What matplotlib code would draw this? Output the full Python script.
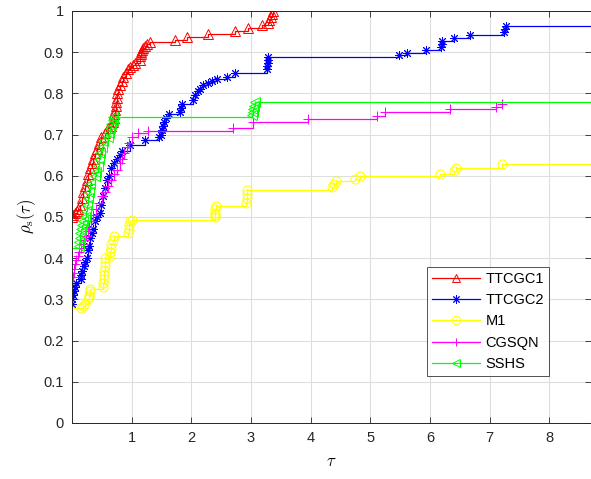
import matplotlib
matplotlib.use("Agg")
import matplotlib.pyplot as plt
from matplotlib.lines import Line2D

plt.rcParams["font.family"] = ["Liberation Sans", "DejaVu Sans"]
plt.rcParams["mathtext.fontset"] = "cm"

# performance profile data (tau, rho)
tau_ttcgc1 = [0, 0.02, 0.05, 0.08, 0.1, 0.13, 0.16, 0.19, 0.22, 0.25,
              0.27, 0.3, 0.33, 0.36, 0.39, 0.42, 0.46, 0.49, 0.55, 0.6,
              0.65, 0.68, 0.7, 0.71, 0.72, 0.73, 0.74, 0.75, 0.76, 0.77,
              0.8, 0.83, 0.86, 0.9, 0.94, 0.98, 1.02, 1.06, 1.14, 1.14,
              1.15, 1.16, 1.17, 1.19, 1.22, 1.26, 1.31, 1.73, 1.93, 2.28,
              2.73, 2.95, 3.19, 3.29, 3.31, 3.33, 3.35, 3.37]
rho_ttcgc1 = [0.50, 0.505, 0.51, 0.515, 0.52, 0.53, 0.545, 0.56, 0.575, 0.59,
              0.605, 0.62, 0.63, 0.64, 0.655, 0.665, 0.68, 0.695, 0.705, 0.715,
              0.72, 0.73, 0.74, 0.75, 0.76, 0.77, 0.78, 0.79, 0.80, 0.81,
              0.82, 0.83, 0.84, 0.85, 0.86, 0.865, 0.87, 0.875, 0.88, 0.89,
              0.895, 0.90, 0.905, 0.91, 0.915, 0.92, 0.925, 0.93, 0.937, 0.944,
              0.952, 0.958, 0.965, 0.972, 0.979, 0.986, 0.993, 1.0]

tau_ttcgc2 = [0.0, 0.0, 0.02, 0.03, 0.05, 0.06, 0.15, 0.15, 0.16, 0.2,
              0.22, 0.25, 0.27, 0.29, 0.31, 0.33, 0.35, 0.38, 0.42, 0.47,
              0.48, 0.52, 0.55, 0.58, 0.62, 0.65, 0.7, 0.75, 0.8, 0.84,
              0.97, 1.22, 1.45, 1.49, 1.51, 1.53, 1.55, 1.58, 1.62, 1.81,
              1.82, 1.84, 2.03, 2.07, 2.11, 2.15, 2.2, 2.28, 2.35, 2.43,
              2.6, 2.73, 3.27, 3.27, 3.28, 3.28, 3.29, 5.48, 5.62, 5.94,
              6.19, 6.2, 6.21, 6.4, 6.68, 7.24, 7.26, 7.27]
rho_ttcgc2 = [0.29, 0.30, 0.31, 0.32, 0.33, 0.34, 0.35, 0.36, 0.37, 0.38,
              0.39, 0.40, 0.42, 0.43, 0.45, 0.46, 0.47, 0.49, 0.50, 0.51,
              0.53, 0.55, 0.57, 0.59, 0.60, 0.62, 0.63, 0.64, 0.65, 0.66,
              0.675, 0.687, 0.695, 0.70, 0.71, 0.72, 0.73, 0.74, 0.75, 0.755,
              0.765, 0.775, 0.785, 0.795, 0.805, 0.81, 0.82, 0.825, 0.83, 0.835,
              0.84, 0.85, 0.86, 0.867, 0.874, 0.881, 0.888, 0.893, 0.899, 0.905,
              0.912, 0.919, 0.926, 0.934, 0.942, 0.949, 0.956, 0.963]

tau_m1 = [0, 0.15, 0.18, 0.22, 0.27, 0.28, 0.29, 0.3, 0.31, 0.52,
          0.52, 0.53, 0.53, 0.54, 0.55, 0.55, 0.56, 0.64, 0.64, 0.65,
          0.66, 0.69, 0.7, 0.94, 0.95, 0.96, 0.98, 1.0, 2.39, 2.39,
          2.4, 2.4, 2.41, 2.92, 2.93, 2.93, 2.94, 4.36, 4.4, 4.42,
          4.75, 4.82, 6.17, 6.41, 6.44, 7.2]
rho_m1 = [0.278, 0.28, 0.285, 0.29, 0.30, 0.305, 0.31, 0.32, 0.325, 0.33,
          0.34, 0.35, 0.36, 0.37, 0.38, 0.39, 0.40, 0.405, 0.415, 0.425,
          0.435, 0.445, 0.453, 0.46, 0.47, 0.48, 0.49, 0.493, 0.50, 0.505,
          0.51, 0.52, 0.527, 0.535, 0.545, 0.555, 0.566, 0.572, 0.58, 0.587,
          0.593, 0.60, 0.605, 0.612, 0.62, 0.628]

tau_cgsqn = [0.02, 0.03, 0.04, 0.05, 0.07, 0.1, 0.12, 0.15, 0.18, 0.2,
             0.23, 0.26, 0.29, 0.32, 0.35, 0.4, 0.45, 0.5, 0.55, 0.6,
             0.65, 0.7, 0.75, 0.8, 0.84, 0.88, 0.92, 0.96, 1.0, 1.1,
             1.28, 2.7, 3.04, 3.96, 5.12, 5.25, 6.33, 7.11, 7.21]
rho_cgsqn = [0.355, 0.365, 0.375, 0.385, 0.395, 0.405, 0.415, 0.425, 0.435, 0.445,
             0.455, 0.465, 0.475, 0.49, 0.505, 0.52, 0.535, 0.55, 0.56, 0.575,
             0.59, 0.605, 0.615, 0.63, 0.64, 0.655, 0.67, 0.68, 0.695, 0.703,
             0.709, 0.716, 0.73, 0.738, 0.745, 0.754, 0.762, 0.768, 0.775]

tau_sshs = [0, 0.12, 0.12, 0.13, 0.14, 0.15, 0.17, 0.19, 0.21, 0.23,
            0.25, 0.27, 0.28, 0.3, 0.38, 0.4, 0.43, 0.45, 0.47, 0.5,
            0.52, 0.6, 0.62, 0.64, 0.66, 0.68, 0.69, 3.02, 3.03, 3.04,
            3.05, 3.06]
rho_sshs = [0.425, 0.43, 0.44, 0.45, 0.46, 0.47, 0.48, 0.49, 0.50, 0.515,
            0.53, 0.545, 0.56, 0.58, 0.60, 0.61, 0.625, 0.64, 0.655, 0.67,
            0.685, 0.695, 0.705, 0.715, 0.725, 0.735, 0.742, 0.748, 0.755, 0.762,
            0.77, 0.778]

XMAX = 8.70

# name, tau, rho, color, marker, first marked index, extend to right edge
series = [
    ("TTCGC1", tau_ttcgc1, rho_ttcgc1, (1, 0, 0), "^", 0, False),
    ("TTCGC2", tau_ttcgc2, rho_ttcgc2, (0, 0, 1), (8, 2, 0), 0, True),
    ("M1", tau_m1, rho_m1, (1, 1, 0), "o", 1, True),
    ("CGSQN", tau_cgsqn, rho_cgsqn, (1, 0, 1), "+", 0, False),
    ("SSHS", tau_sshs, rho_sshs, (0, 1, 0), "<", 1, True),
]

fig = plt.figure(figsize=(5.91, 4.79), dpi=100)
ax = fig.add_axes([72 / 591, 56 / 479, 519 / 591, 412 / 479])

handles = []
for name, t, r, c, m, first, ext in series:
    assert len(t) == len(r), name
    ax.plot(t, r, drawstyle="steps-post", color=c, lw=0.9,
            marker=m, ms=6.5, mfc="none", mec=c, mew=0.7,
            markevery=slice(first, None))
    if ext:
        ax.plot([t[-1], XMAX], [r[-1], r[-1]], color=c, lw=0.9)
    handles.append(Line2D([], [], color=c, lw=0.9, marker=m, ms=6,
                          mfc="none", mec=c, mew=0.7, label=name))

ax.set_xlim(0, XMAX)
ax.set_ylim(0, 1)
ax.set_xticks(range(1, 9))
ax.set_yticks([i / 10 for i in range(11)])
ax.set_yticklabels(["0"] + ["%.1f" % (i / 10) for i in range(1, 10)] + ["1"])

ax.grid(True, color=(0.87, 0.87, 0.87), lw=0.8)
ax.set_axisbelow(True)
ax.tick_params(direction="in", length=4, width=0.6, colors=(0.15, 0.15, 0.15),
               labelsize=10.5, top=True, right=True, pad=6)
for s in ["left", "bottom", "top"]:
    ax.spines[s].set_color((0.15, 0.15, 0.15))
    ax.spines[s].set_linewidth(0.7)
ax.spines["right"].set_visible(False)

ax.set_xlabel(r"$\tau$", fontsize=12, labelpad=6)
ax.set_ylabel(r"$\rho_{\rm s}(\tau)$", fontsize=12, labelpad=4)

leg = ax.legend(handles=handles, loc="lower left",
                bbox_to_anchor=(0.684, 0.114), fontsize=10.5,
                handlelength=3.3, numpoints=1, frameon=True, fancybox=False,
                borderpad=0.35, labelspacing=0.5, handletextpad=0.35,
                borderaxespad=0)
leg.get_frame().set_edgecolor((0.15, 0.15, 0.15))
leg.get_frame().set_linewidth(0.7)

fig.savefig("out.png", dpi=100)
